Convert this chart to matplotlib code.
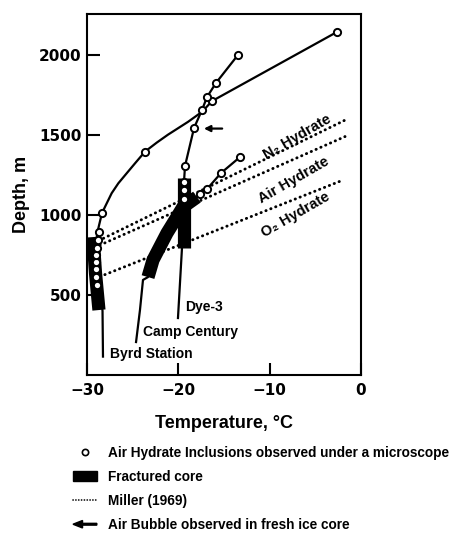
import matplotlib
matplotlib.use("Agg")
import matplotlib.pyplot as plt
import matplotlib.patches as mpatches
from matplotlib.lines import Line2D
from matplotlib.legend_handler import HandlerPatch
from matplotlib import font_manager

names = {f.name for f in font_manager.fontManager.ttflist}
TXT = next((n for n in ['Liberation Sans Narrow', 'Liberation Sans', 'Arimo', 'DejaVu Sans'] if n in names), 'DejaVu Sans')
TICK = 'DejaVu Sans'

# ---------------- data (temperature °C, depth m) ----------------
byrd_T = [-28.25, -28.3, -28.6, -28.9, -29.0, -28.9, -28.7, -28.36, -27.84, -27.30, -26.57, -25.65, -24.74,
          -23.65, -22.37, -21.13, -18.94, -17.40, -16.31, -2.62]
byrd_D = [115, 400, 550, 700, 800, 880, 931, 1012, 1073, 1136, 1198, 1261, 1323,
          1396, 1452, 1502, 1582, 1645, 1712, 2144]
byrd_obs_T = [-28.95, -29.0, -29.0, -29.0, -29.0, -28.9, -28.8, -28.7, -28.36, -23.65, -16.31, -2.62]
byrd_obs_D = [560, 610, 660, 706, 750, 794, 844, 894, 1012, 1396, 1712, 2144]
byrd_frac_T = [-28.69, -29.07, -29.34]
byrd_frac_D = [406, 637, 862]

camp_T = [-24.63, -24.20, -23.87, -23.32, -22.77, -21.24, -20.15, -19.49, -17.96, -17.63, -16.86, -15.33, -13.25]
camp_D = [206, 406, 594, 612, 719, 887, 988, 1050, 1112, 1131, 1162, 1262, 1362]
camp_obs_T = [-17.63, -16.86, -15.33, -13.25]
camp_obs_D = [1131, 1162, 1262, 1362]
camp_frac_T = [-23.32, -22.77, -21.24, -20.15, -19.49, -17.96]
camp_frac_D = [612, 719, 887, 988, 1050, 1112]

dye_T = [-20.04, -19.60, -19.38, -19.38, -19.38, -19.38, -19.27, -18.28, -17.41, -16.86, -15.88, -13.47]
dye_D = [356, 794, 1000, 1100, 1156, 1206, 1306, 1544, 1656, 1737, 1825, 2000]
dye_obs_T = [-19.38, -19.38, -19.38, -19.27, -18.28, -17.41, -16.86, -15.88, -13.47]
dye_obs_D = [1100, 1156, 1206, 1306, 1544, 1656, 1737, 1825, 2000]
dye_frac_T = [-19.38, -19.38]
dye_frac_D = [794, 1231]

miller_n2_T = [-28.2, -1.56]
miller_n2_D = [854, 1598]
miller_air_T = [-28.58, -1.75]
miller_air_D = [812, 1490]
miller_o2_T = [-28.58, -2.11]
miller_o2_D = [615, 1215]

bubble_T = -17.2      # arrow tip (air bubble, Dye-3)
bubble_D = 1540
bubble_tail_T = -15.2

x_ticks = [-30, -20, -10, 0]
x_tick_labels = ['−30', '−20', '−10', '0']
y_ticks = [500, 1000, 1500, 2000]

site_labels = ["Byrd Station", "Camp Century", "Dye-3"]
site_label_T = [-27.5, -23.9, -19.3]
site_label_D = [131, 269, 425]

hyd_labels = ["N₂ Hydrate", "Air Hydrate", "O₂ Hydrate"]
hyd_T = [-7.0, -7.4, -7.2]
hyd_D = [1487, 1219, 1000]

legend_labels = ["Air Hydrate Inclusions observed under a microscope",
                 "Fractured core",
                 "Miller (1969)",
                 "Air Bubble observed in fresh ice core"]

# ---------------- figure ----------------
fig = plt.figure(figsize=(4.56, 5.33), dpi=100)
ax = fig.add_axes([87/456, 1-375/533, 274/456, 361/533])
ax.set_xlim(-30, 0)
ax.set_ylim(0, 2256)

FRAC_LW = 9.5
for fT, fD in [(byrd_frac_T, byrd_frac_D), (camp_frac_T, camp_frac_D), (dye_frac_T, dye_frac_D)]:
    ax.plot(fT, fD, color='black', lw=FRAC_LW, solid_capstyle='butt', solid_joinstyle='round', zorder=2)

for T, D in [(byrd_T, byrd_D), (camp_T, camp_D), (dye_T, dye_D)]:
    ax.plot(T, D, color='black', lw=1.6, zorder=3, solid_joinstyle='round')

for T, D in [(miller_n2_T, miller_n2_D), (miller_air_T, miller_air_D), (miller_o2_T, miller_o2_D)]:
    ax.plot(T, D, color='black', lw=2.1, linestyle=(0, (0.1, 1.7)), dash_capstyle='round', zorder=2)

for T, D in [(byrd_obs_T, byrd_obs_D), (camp_obs_T, camp_obs_D), (dye_obs_T, dye_obs_D)]:
    ax.plot(T, D, linestyle='none', marker='o', ms=5.2, mfc='white', mec='black', mew=1.4, zorder=4)

ax.annotate('', xy=(bubble_T, bubble_D), xytext=(bubble_tail_T, bubble_D),
            arrowprops=dict(arrowstyle='-|>', lw=1.6, color='black', mutation_scale=9,
                            shrinkA=0, shrinkB=0), zorder=5)

for lab, T, D in zip(site_labels, site_label_T, site_label_D):
    ax.text(T, D, lab, ha='left', va='center', fontsize=10, family=TXT, fontweight='bold')

for lab, T, D in zip(hyd_labels, hyd_T, hyd_D):
    ax.text(T, D, lab, ha='center', va='center', rotation=30, fontsize=10.5, family=TXT,
            fontweight='bold', rotation_mode='anchor')

ax.set_xticks(x_ticks)
ax.set_xticklabels(x_tick_labels)
ax.set_yticks(y_ticks)
ax.tick_params(direction='in', length=9, width=1.5, labelsize=11, pad=4)
ax.tick_params(axis='x', pad=6)
for lbl in ax.get_xticklabels() + ax.get_yticklabels():
    lbl.set_fontweight('bold')
    lbl.set_family(TICK)
for s in ax.spines.values():
    s.set_linewidth(1.5)

ax.set_xlabel('Temperature, °C', fontsize=13, fontweight='bold', family=TXT, labelpad=12)
ax.set_ylabel('Depth, m', fontsize=13, fontweight='bold', family=TXT, labelpad=6)

# ---------------- legend ----------------
class LeftArrow(mpatches.Rectangle):
    pass

def make_left_arrow(legend, orig_handle, xdescent, ydescent, width, height, fontsize):
    return mpatches.FancyArrow(width, 0.5*height, -width, 0, length_includes_head=True,
                               head_width=0.75*height, head_length=0.4*width, width=0.18*height,
                               color='black')

h_circle = Line2D([], [], linestyle='none', marker='o', ms=4.5, mfc='white', mec='black', mew=1.2)
h_frac = mpatches.Rectangle((0, 0), 1, 1, facecolor='black', edgecolor='black')
h_miller = Line2D([], [], color='black', lw=1.2, linestyle=(0, (0.1, 1.6)), dash_capstyle='round')
h_arrow = LeftArrow((0, 0), 1, 1, facecolor='black', edgecolor='black')

leg = fig.legend([h_circle, h_frac, h_miller, h_arrow], legend_labels,
                 loc='upper left', bbox_to_anchor=(73/456, 1-446/533), frameon=False,
                 prop={'family': TXT, 'weight': 'bold', 'size': 9.8},
                 handlelength=1.75, handleheight=0.75, handletextpad=0.8, labelspacing=0.74,
                 borderpad=0, borderaxespad=0,
                 handler_map={LeftArrow: HandlerPatch(patch_func=make_left_arrow)})

fig.savefig('out.png', dpi=100)
